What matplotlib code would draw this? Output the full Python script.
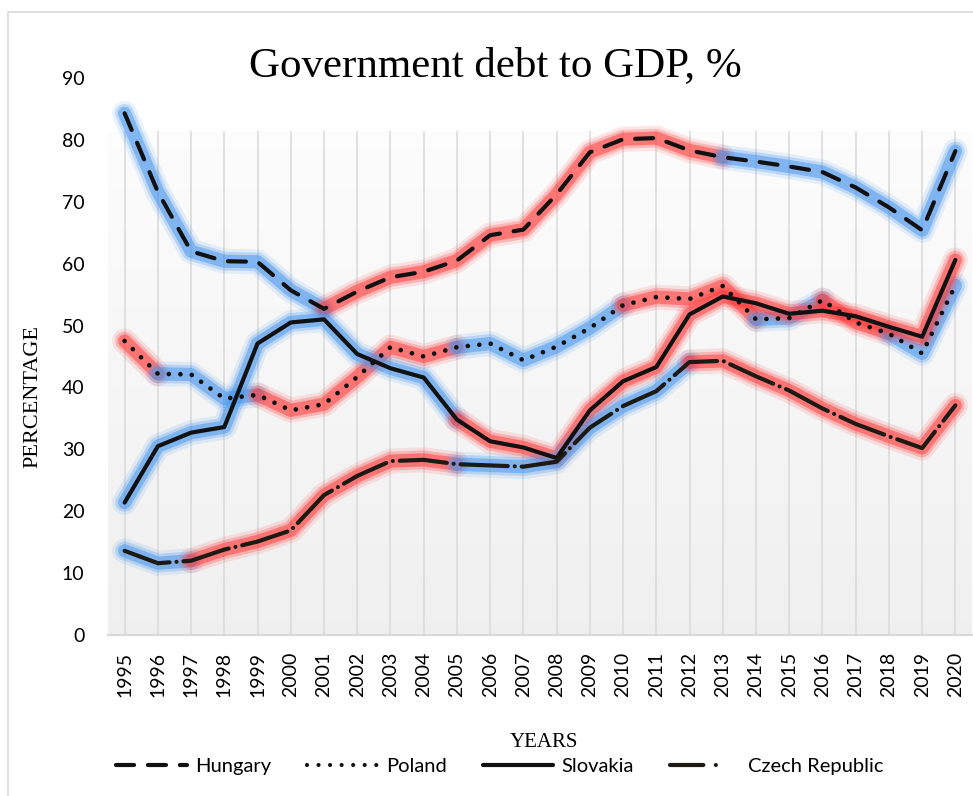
import numpy as np
import matplotlib
matplotlib.use("Agg")
import matplotlib.pyplot as plt
from matplotlib.lines import Line2D
from matplotlib.patches import Rectangle

plt.rcParams['lines.scale_dashes'] = False

# Government debt to GDP, %
years = list(range(1995, 2021))
hungary = [84.3, 71.6, 62.0, 60.4, 60.3, 55.7, 52.7, 55.5, 57.8, 58.7, 60.5, 64.6, 65.5,
           71.2, 78.0, 80.1, 80.3, 78.3, 77.2, 76.5, 75.7, 74.8, 72.3, 69.1, 65.4, 78.2]
poland = [47.5, 42.2, 42.1, 38.2, 38.8, 36.3, 37.3, 41.7, 46.5, 45.0, 46.5, 47.1, 44.4,
          46.6, 49.6, 53.3, 54.6, 54.3, 56.4, 51.0, 51.2, 54.1, 50.5, 48.7, 45.5, 56.5]
slovakia = [21.4, 30.5, 32.7, 33.6, 47.1, 50.5, 51.0, 45.4, 43.1, 41.6, 34.8, 31.3, 30.3,
            28.6, 36.3, 41.0, 43.3, 51.8, 54.7, 53.6, 51.9, 52.4, 51.5, 49.8, 48.2, 60.6]
czech = [13.6, 11.6, 12.0, 13.8, 15.1, 16.9, 22.6, 25.7, 28.1, 28.3, 27.6, 27.4, 27.2,
         28.0, 33.5, 37.0, 39.4, 44.1, 44.3, 41.8, 39.5, 36.6, 34.1, 32.1, 30.2, 37.1]
series_names = ["Hungary", "Poland", "Slovakia", "Czech Republic"]

# glow colour of each segment (B = blue, R = red), purely decorative
glow_codes = [
    "B" * 6 + "R" * 12 + "B" * 7,
    "R" + "B" * 3 + "R" * 6 + "B" * 5 + "R" * 4 + "B" * 2 + "R" * 2 + "B" * 2,
    "B" * 10 + "R" * 15,
    "B" * 2 + "R" * 8 + "B" * 7 + "R" * 8,
]
glow_rgb = {"B": "#4595ee", "R": "#ff3838"}

styles = [
    dict(color="#111111", dashes=(13, 10), dash_capstyle="round"),
    dict(color="#111111", dashes=(0.01, 8.3), dash_capstyle="round"),
    dict(color="#111111", solid_capstyle="round"),
    dict(color="#1c1a12", dashes=(34, 5, 0.01, 5), dash_capstyle="round"),
]
LW = 3.0

SANS = ["Lato", "DejaVu Sans"]
SERIF = ["Liberation Serif", "DejaVu Serif"]

fig = plt.figure(figsize=(9.73, 7.96), dpi=100)
W, H = 973, 796

# thin frame round the whole chart
fig.patches.append(Rectangle((8 / W, -0.01), 1.0, 1 - 12 / H + 0.01, transform=fig.transFigure,
                             fill=False, edgecolor="#d9d9d9", linewidth=1.2))

ax = fig.add_axes([108 / W, 1 - 635 / H, (972 - 108) / W, (635 - 78) / H])
ax.set_xlim(1994.5, 2020.5)
ax.set_ylim(0, 90)

# soft vertical gradient background
top_val = 81.5
vals = np.linspace(90, 0, 300)
shade = np.where(vals > top_val, 1.0, 0.99 - (top_val - vals) / top_val * 0.05)
grad = np.repeat(shade[:, None, None], 3, axis=2)
ax.imshow(grad, extent=(1994.5, 2020.5, 0, 90), aspect="auto", zorder=0, vmin=0, vmax=1)

ax.vlines(years, 0, top_val, color="#d9d9d9", linewidth=1.1, zorder=1)

for sp in ["top", "right", "left"]:
    ax.spines[sp].set_visible(False)
ax.spines["bottom"].set_color("#d9d9d9")
ax.spines["bottom"].set_linewidth(1.5)

all_series = [hungary, poland, slovakia, czech]

# glow under the lines
for vals_s, code in zip(all_series, glow_codes):
    runs = []
    start = 0
    for i in range(1, len(code) + 1):
        if i == len(code) or code[i] != code[start]:
            runs.append((start, i, code[start]))
            start = i
    for s, e, c in runs:
        xs = years[s:e + 1]
        ys = vals_s[s:e + 1]
        for w, a in [(18, 0.12), (13.5, 0.25), (9.5, 0.5)]:
            ax.plot(xs, ys, color=glow_rgb[c], lw=w, alpha=a, solid_capstyle="round",
                    solid_joinstyle="round", zorder=2)

for vals_s, name, st in zip(all_series, series_names, styles):
    lw = 3.4 if st.get("dashes", (1,))[0] < 0.1 else LW
    ax.plot(years, vals_s, lw=lw, label=name, zorder=3, **st)

ax.set_yticks(range(0, 91, 10))
ax.set_xticks(years)
ax.set_xticklabels([str(y) for y in years], rotation=90, family=SANS, fontsize=14)
ax.set_yticklabels([str(v) for v in range(0, 91, 10)], family=SANS, fontsize=14)
ax.tick_params(axis="y", length=0, pad=17)
ax.tick_params(axis="x", length=0, pad=12)

fig.text(495 / W, 1 - 76 / H, "Government debt to GDP, %", family=SERIF, fontsize=31,
         ha="center", va="baseline")
fig.text(544 / W, 1 - 747 / H, "YEARS", family=SERIF, fontsize=15, ha="center", va="baseline")
fig.text(33 / W, 1 - 396 / H, "PERCENTAGE", family=SERIF, fontsize=16, rotation=90,
         ha="center", va="center")

# legend keys: same look, Czech key shows one dash and one dot like the original
leg_styles = [dict(st) for st in styles]
leg_styles[3]["dashes"] = (24, 9, 0.01, 40)
handles = [Line2D([], [], lw=LW, **st) for st in leg_styles]
leg = fig.legend(handles, series_names, loc="center", bbox_to_anchor=(500 / W, 1 - 766 / H),
                 ncol=4, frameon=False, handlelength=3.5, handletextpad=0.4, columnspacing=1.8,
                 prop={"family": SANS, "size": 14.5})

fig.savefig("out.png", dpi=100)
